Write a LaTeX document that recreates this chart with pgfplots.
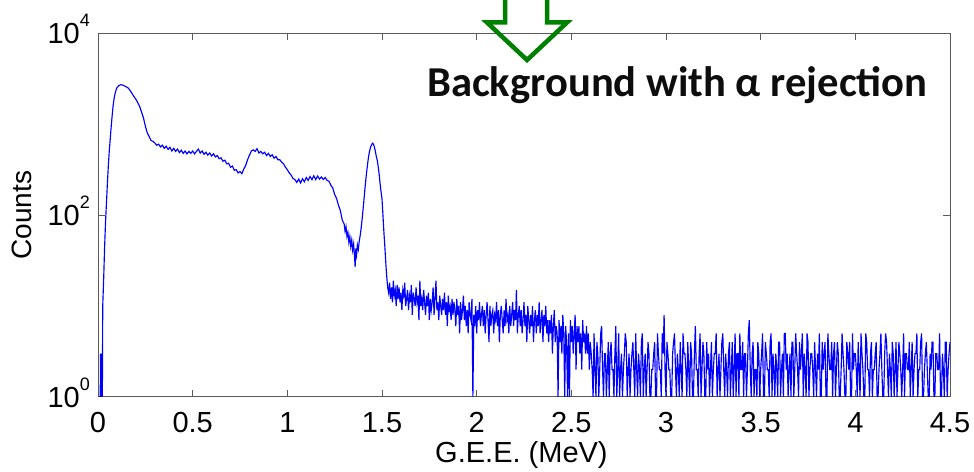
\documentclass[border=0pt]{standalone}
\usepackage{fontspec}
\setmainfont{Liberation Sans}
\newfontfamily\titlefont{Carlito}
\usepackage{pgfplots}
\pgfplotsset{compat=1.18}
\definecolor{axgray}{RGB}{90,90,90}
\definecolor{arrowgreen}{RGB}{0,128,0}
\definecolor{specblue}{RGB}{0,0,255}
\newcommand\sups[1]{\raisebox{17pt}{\fontsize{18}{18}\selectfont #1}}
\begin{document}
\begin{tikzpicture}
\begin{axis}[
  at={(98pt,74pt)}, anchor=south west,
  scale only axis, width=852pt, height=364pt,
  xmin=0, xmax=4.5, ymode=log, ymin=1, ymax=10000,
  xtick={0,0.5,1,1.5,2,2.5,3,3.5,4,4.5},
  xticklabels={0,0.5,1,1.5,2,2.5,3,3.5,4,4.5},
  ytick={1,100,10000}, yticklabels={10\sups{0},10\sups{2},10\sups{4}},
  xminorticks=false, yminorticks=false,
  tick align=inside, major tick length=7pt,
  axis line style={axgray, line width=1pt},
  every tick/.style={axgray, line width=1pt},
  tick label style={font=\fontsize{29}{34}\selectfont, inner sep=0pt},
  xticklabel style={anchor=base, yshift=-35pt},
  yticklabel style={anchor=base east, xshift=-8pt, yshift=-10.5pt},
  xlabel={G.E.E. (MeV)}, ylabel={Counts},
  every axis x label/.style={at={(axis description cs:0.497,-0.1813)}, anchor=base, font=\fontsize{29}{34}\selectfont},
  every axis y label/.style={at={(axis description cs:-0.0892,0.5)}, rotate=90, anchor=center, font=\fontsize{28}{34}\selectfont},
]
\addplot[specblue, line width=1.15pt, sharp plot, mark=none] coordinates {
(0.002,1) (0.012,1) (0.013,3) (0.015,1) (0.017,3) (0.019,1) (0.021,3) (0.023,1) (0.025,10) (0.030,20)
(0.035,45) (0.040,85) (0.045,140) (0.050,230) (0.055,360) (0.060,520) (0.065,700) (0.070,950) (0.075,1250) (0.080,1600)
(0.085,1900) (0.090,2150) (0.095,2350) (0.100,2500) (0.110,2640) (0.120,2700) (0.130,2680) (0.140,2620) (0.150,2560) (0.160,2480)
(0.170,2330) (0.180,2160) (0.190,2000) (0.200,1870) (0.210,1720) (0.220,1560) (0.230,1350) (0.240,1170) (0.250,950) (0.260,800)
(0.270,730) (0.280,660) (0.290,645) (0.300,620) (0.310,585) (0.320,600) (0.330,560) (0.340,585) (0.350,540) (0.360,570)
(0.370,525) (0.380,555) (0.390,505) (0.400,540) (0.410,500) (0.420,530) (0.430,485) (0.440,515) (0.450,475) (0.460,505)
(0.470,470) (0.480,500) (0.490,475) (0.500,505) (0.510,470) (0.520,500) (0.530,530) (0.540,480) (0.550,505) (0.560,465)
(0.570,490) (0.580,455) (0.590,480) (0.600,445) (0.610,470) (0.620,435) (0.630,450) (0.640,415) (0.650,425) (0.660,390)
(0.670,400) (0.680,365) (0.690,370) (0.700,335) (0.710,345) (0.720,310) (0.730,315) (0.740,290) (0.750,300) (0.760,285)
(0.770,320) (0.780,350) (0.790,405) (0.800,455) (0.810,505) (0.820,520) (0.830,500) (0.840,535) (0.850,480) (0.860,500)
(0.870,470) (0.880,490) (0.890,450) (0.900,475) (0.910,440) (0.920,460) (0.930,420) (0.940,440) (0.950,405) (0.960,405)
(0.970,380) (0.980,365) (0.990,335) (1.000,315) (1.010,290) (1.020,275) (1.030,252) (1.040,245) (1.050,228) (1.060,248)
(1.070,225) (1.080,250) (1.090,232) (1.100,258) (1.110,240) (1.120,265) (1.130,245) (1.140,270) (1.150,245) (1.160,268)
(1.170,248) (1.180,262) (1.190,245) (1.200,258) (1.210,240) (1.220,235) (1.230,212) (1.240,198) (1.250,168) (1.260,152)
(1.270,128) (1.280,112) (1.290,88) (1.300,80) (1.305,66) (1.310,74) (1.315,58) (1.320,64) (1.325,50) (1.330,58)
(1.335,45) (1.340,53) (1.345,41) (1.350,48) (1.355,35) (1.358,27) (1.362,43) (1.366,37) (1.370,47) (1.375,42)
(1.380,52) (1.385,60) (1.390,72) (1.395,90) (1.400,115) (1.405,150) (1.410,195) (1.415,250) (1.420,310) (1.425,380)
(1.430,450) (1.435,510) (1.440,560) (1.445,590) (1.450,615) (1.455,600) (1.460,560) (1.465,500) (1.470,440) (1.475,400)
(1.480,340) (1.485,280) (1.490,220) (1.495,180) (1.500,150) (1.505,100) (1.510,65) (1.515,45) (1.520,30) (1.525,21)
(1.530,16)
(1.535,14) (1.540,18) (1.545,12) (1.550,16) (1.555,11) (1.560,19) (1.565,13) (1.570,15) (1.575,10) (1.580,17)
(1.585,12) (1.590,16) (1.595,11) (1.600,14) (1.605,9) (1.610,15) (1.615,13) (1.620,18) (1.625,10) (1.630,12)
(1.635,15) (1.640,9) (1.645,13) (1.650,11) (1.655,17) (1.660,8) (1.665,14) (1.670,12) (1.675,10) (1.680,16)
(1.685,11) (1.690,13) (1.695,7) (1.700,19) (1.705,10) (1.710,12) (1.715,9) (1.720,15) (1.725,11) (1.730,8)
(1.735,13) (1.740,10) (1.745,14) (1.750,7) (1.755,12) (1.760,9) (1.765,11) (1.770,16) (1.775,8) (1.780,12)
(1.785,19) (1.790,9) (1.795,11) (1.800,7) (1.805,13) (1.810,10) (1.815,8) (1.820,12) (1.825,9) (1.830,14)
(1.835,8) (1.840,11) (1.845,6) (1.850,13) (1.855,9) (1.860,10) (1.865,7) (1.870,12) (1.875,8) (1.880,11)
(1.885,9) (1.890,6) (1.895,12) (1.900,8) (1.905,10) (1.910,5) (1.915,11) (1.920,7) (1.925,9) (1.930,13)
(1.935,7) (1.940,10) (1.945,6) (1.950,9) (1.955,5) (1.960,11) (1.965,8) (1.970,7) (1.975,12) (1.980,1)
(1.985,8) (1.990,6) (1.995,10) (2.000,5) (2.005,9) (2.010,7) (2.015,11) (2.020,6) (2.025,8) (2.030,10)
(2.035,6) (2.040,9) (2.045,5) (2.050,8) (2.055,11) (2.060,7) (2.065,4) (2.070,10) (2.075,6) (2.080,8)
(2.085,9) (2.090,5) (2.095,8) (2.100,7) (2.105,11) (2.110,6) (2.115,9) (2.120,4) (2.125,8) (2.130,10)
(2.135,7) (2.140,5) (2.145,9) (2.150,6) (2.155,12) (2.160,7) (2.165,8) (2.170,5) (2.175,10) (2.180,6)
(2.185,8) (2.190,11) (2.195,6) (2.200,9) (2.205,7) (2.210,15) (2.215,5) (2.220,8) (2.225,10) (2.230,6)
(2.235,9) (2.240,5) (2.245,7) (2.250,11) (2.255,6) (2.260,8) (2.265,4) (2.270,10) (2.275,7) (2.280,5)
(2.285,8) (2.290,6) (2.295,10) (2.300,4) (2.305,7) (2.310,9) (2.315,5) (2.320,8) (2.325,6) (2.330,11)
(2.335,5) (2.340,7) (2.345,9) (2.350,4) (2.355,8) (2.360,6) (2.365,10) (2.370,5) (2.375,7) (2.380,4)
(2.385,7) (2.390,5) (2.395,8) (2.400,3) (2.405,6) (2.410,9) (2.415,4) (2.420,6) (2.425,5) (2.430,1)
(2.435,7) (2.440,4) (2.445,6) (2.450,3) (2.455,8) (2.460,5) (2.465,1) (2.470,6) (2.475,4) (2.480,1)
(2.485,5) (2.490,1) (2.495,7) (2.500,4) (2.505,6) (2.510,3) (2.515,5) (2.520,8) (2.525,2) (2.530,6)
(2.535,4) (2.540,6) (2.545,3) (2.550,5) (2.555,2) (2.560,7) (2.565,4) (2.570,5) (2.575,3) (2.580,6)
(2.585,3) (2.590,5) (2.595,2)
(2.600,4) (2.605,3) (2.610,2) (2.615,1) (2.620,5) (2.625,2) (2.630,1) (2.635,4) (2.640,3) (2.645,1) (2.650,2) (2.655,5) (2.660,6) (2.665,2) (2.670,1) (2.675,3) (2.680,3) (2.685,1) (2.690,2) (2.695,4)
(2.700,1) (2.705,3) (2.710,4) (2.715,2) (2.720,2) (2.725,1) (2.730,3) (2.735,6) (2.740,1) (2.745,2) (2.750,5) (2.755,1) (2.760,2) (2.765,3) (2.770,1) (2.775,2) (2.780,3) (2.785,5) (2.790,4) (2.795,1)
(2.800,2) (2.805,3) (2.810,1) (2.815,2) (2.820,3) (2.825,4) (2.830,2) (2.835,1) (2.840,5) (2.845,2) (2.850,1) (2.855,3) (2.860,2) (2.865,1) (2.870,4) (2.875,5) (2.880,1) (2.885,2) (2.890,3) (2.895,1)
(2.900,2) (2.905,4) (2.910,3) (2.915,1) (2.920,1) (2.925,2) (2.930,2) (2.935,3) (2.940,4) (2.945,1) (2.950,1) (2.955,5) (2.960,3) (2.965,2) (2.970,2) (2.975,1) (2.980,5) (2.985,3) (2.990,8) (2.995,2)
(3.000,1) (3.005,4) (3.010,3) (3.015,2) (3.020,2) (3.025,1) (3.030,1) (3.035,3) (3.040,4) (3.045,5) (3.050,2) (3.055,1) (3.060,3) (3.065,2) (3.070,1) (3.075,4) (3.080,2) (3.085,1) (3.090,5) (3.095,3)
(3.100,3) (3.105,2) (3.110,1) (3.115,4) (3.120,2) (3.125,1) (3.130,4) (3.135,3) (3.140,1) (3.145,1) (3.150,3) (3.155,6) (3.160,2) (3.165,2) (3.170,1) (3.175,3) (3.180,5) (3.185,1) (3.190,2) (3.195,4)
(3.200,3) (3.205,1) (3.210,1) (3.215,4) (3.220,2) (3.225,3) (3.230,1) (3.235,2) (3.240,4) (3.245,1) (3.250,2) (3.255,3) (3.260,3) (3.265,5) (3.270,1) (3.275,2) (3.280,3) (3.285,1) (3.290,2) (3.295,4)
(3.300,5) (3.305,2) (3.310,1) (3.315,3) (3.320,2) (3.325,1) (3.330,3) (3.335,4) (3.340,1) (3.345,2) (3.350,4) (3.355,1) (3.360,2) (3.365,5) (3.370,1) (3.375,3) (3.380,3) (3.385,1) (3.390,5) (3.395,2)
(3.400,2) (3.405,4) (3.410,1) (3.415,3) (3.420,3) (3.425,1) (3.430,2) (3.435,5) (3.440,7) (3.445,2) (3.450,1) (3.455,3) (3.460,4) (3.465,1) (3.470,2) (3.475,2) (3.480,1) (3.485,4) (3.490,3) (3.495,1)
(3.500,2) (3.505,3) (3.510,5) (3.515,1) (3.520,1) (3.525,4) (3.530,3) (3.535,2) (3.540,2) (3.545,1) (3.550,4) (3.555,5) (3.560,1) (3.565,3) (3.570,2) (3.575,1) (3.580,3) (3.585,2) (3.590,1) (3.595,4)
(3.600,4) (3.605,1) (3.610,2) (3.615,3) (3.620,1) (3.625,5) (3.630,5) (3.635,2) (3.640,3) (3.645,1) (3.650,2) (3.655,3) (3.660,1) (3.665,4) (3.670,4) (3.675,1) (3.680,2) (3.685,5) (3.690,3) (3.695,2)
(3.700,1) (3.705,4) (3.710,2) (3.715,3) (3.720,5) (3.725,1) (3.730,3) (3.735,2) (3.740,1) (3.745,5) (3.750,4) (3.755,1) (3.760,2) (3.765,3) (3.770,3) (3.775,2) (3.780,1) (3.785,4) (3.790,2) (3.795,1)
(3.800,3) (3.805,2) (3.810,5) (3.815,1) (3.820,1) (3.825,4) (3.830,2) (3.835,3) (3.840,4) (3.845,1) (3.850,1) (3.855,5) (3.860,3) (3.865,2) (3.870,2) (3.875,4) (3.880,1) (3.885,3) (3.890,4) (3.895,1)
(3.900,2) (3.905,4) (3.910,3) (3.915,1) (3.920,1) (3.925,2) (3.930,5) (3.935,3) (3.940,2) (3.945,1) (3.950,1) (3.955,4) (3.960,3) (3.965,2) (3.970,4) (3.975,1) (3.980,1) (3.985,5) (3.990,2) (3.995,3)
(4.000,3) (4.005,2) (4.010,1) (4.015,4) (4.020,2) (4.025,1) (4.030,5) (4.035,3) (4.040,2) (4.045,1) (4.050,1) (4.055,5) (4.060,4) (4.065,2) (4.070,2) (4.075,1) (4.080,3) (4.085,4) (4.090,1) (4.095,2)
(4.100,2) (4.105,3) (4.110,4) (4.115,1) (4.120,1) (4.125,2) (4.130,3) (4.135,5) (4.140,2) (4.145,1) (4.150,1) (4.155,3) (4.160,5) (4.165,4) (4.170,2) (4.175,1) (4.180,3) (4.185,2) (4.190,1) (4.195,4)
(4.200,3) (4.205,1) (4.210,2) (4.215,4) (4.220,1) (4.225,2) (4.230,4) (4.235,3) (4.240,2) (4.245,1) (4.250,2) (4.255,5) (4.260,1) (4.265,3) (4.270,3) (4.275,2) (4.280,2) (4.285,4) (4.290,1) (4.295,2)
(4.300,4) (4.305,1) (4.310,2) (4.315,3) (4.320,3) (4.325,5) (4.330,1) (4.335,2) (4.340,2) (4.345,4) (4.350,5) (4.355,1) (4.360,1) (4.365,2) (4.370,3) (4.375,4) (4.380,2) (4.385,1) (4.390,1) (4.395,3)
(4.400,2) (4.405,4) (4.410,4) (4.415,1) (4.420,1) (4.425,3) (4.430,3) (4.435,2) (4.440,2) (4.445,5) (4.450,1) (4.455,1) (4.460,3) (4.465,2) (4.470,1) (4.475,4) (4.480,4) (4.485,1) (4.490,2) (4.495,3)
(4.500,4)
};
\end{axis}
\begin{scope}[x=1pt,y=1pt]
\node[anchor=base west, inner sep=0pt, text=black!95, font=\titlefont\bfseries\fontsize{42.6}{50}\selectfont] at (427,374) {Background with α rejection};
\clip (0,0) rectangle (974,471);
\draw[arrowgreen, line width=4.5pt, miter limit=10] (505,480) -- (505,448.5) -- (487,448.5) -- (527,411) -- (567,448.5) -- (547,448.5) -- (547,480);
\end{scope}
\pgfresetboundingbox
\useasboundingbox (0pt,0pt) rectangle (974pt,471pt);
\end{tikzpicture}
\end{document}
